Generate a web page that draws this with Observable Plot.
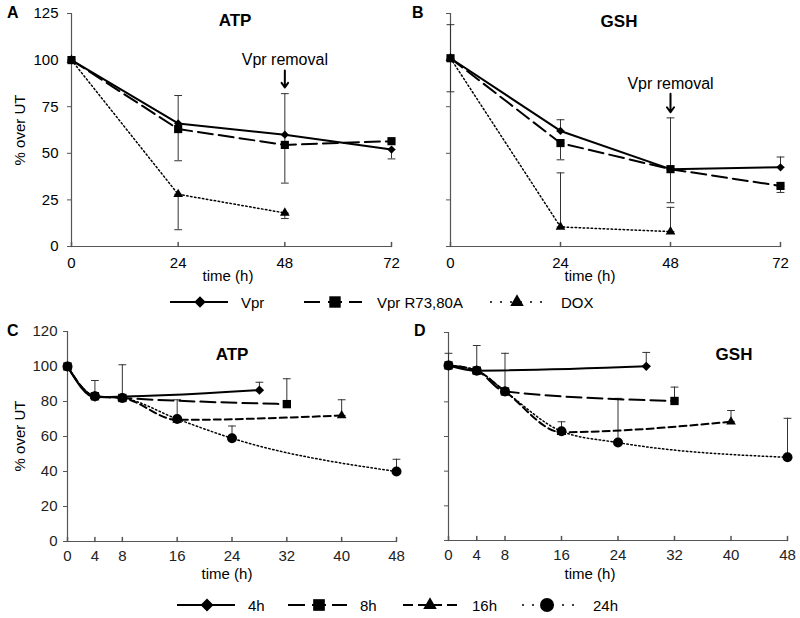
<!DOCTYPE html>
<html><head><meta charset="utf-8">
<script src="https://cdn.jsdelivr.net/npm/d3@7"></script>
<script src="https://cdn.jsdelivr.net/npm/@observablehq/plot@0.6"></script>
<style>
html,body{margin:0;padding:0;background:#fff;}
#root{position:relative;width:800px;height:618px;overflow:hidden;font-family:"Liberation Sans",Arial,sans-serif;}
</style></head><body><div id="root"></div>
<script>
// ---------- DATA ----------
// Panels A/B (time points in h)
const timeAB = [0, 24, 48, 72];
const timeDox = [0, 24, 48];
const atpVpr = [100, 66, 60, 52];
const atpR7380A = [100, 63, 54.5, 56.5];
const atpDox = [100, 28, 18];
const gshVpr = [101, 62, 41.5, 42.5];
const gshR7380A = [101, 55.5, 41.5, 32.5];
const gshDox = [101, 10.5, 8];
// error bars: [time, low end, high end]
const atpErrAB = [[24, 46, 81], [24, 9, 28], [48, 34, 82], [48, 15, 18], [72, 47, 52]];
const gshErrAB = [[0, 83, 119], [24, 62, 68], [24, 46.5, 55.5], [24, 10.5, 39.5], [48, 23.5, 69], [48, 8, 21], [72, 42.5, 48], [72, 29, 32.5]];

// Panels C/D
const time4h = [0, 4, 28];
const time8h = [0, 4, 8, 32];
const time16h = [0, 4, 8, 16, 40];
const time24h = [0, 4, 8, 16, 24, 48];
const atp4h = [100, 82.5, 86.5];
const atp8h = [100, 83, 82, 78.5];
const atp16h = [100, 83, 82, 69.5, 72];
const atp24h = [100, 83, 82, 70, 59, 40];
const gsh4h = [101, 98, 100.5];
const gsh8h = [101, 98, 86, 80.5];
const gsh16h = [101, 98, 86, 62.5, 68.5];
const gsh24h = [101, 98, 86, 63, 56.5, 48];
const atpErrCD = [[4, 83, 92], [8, 82, 101], [16, 70, 81], [24, 59, 66], [28, 86.5, 91], [32, 78.5, 93], [40, 72, 81], [48, 40, 47]];
const gshErrCD = [[0, 101, 108], [4, 98, 112.5], [8, 86, 108], [16, 62.5, 68.5], [24, 56.5, 82], [28, 100.5, 108.5], [32, 80.5, 88.5], [40, 68.5, 75], [48, 48, 70.5]];

// ticks and labels
const xTicksAB = [0, 24, 48, 72];
const yTicksAB = [0, 25, 50, 75, 100, 125];
const xTicksCD = [0, 4, 8, 16, 24, 32, 40, 48];
const yTicksCD = [0, 20, 40, 60, 80, 100, 120];
const seriesAB = ["Vpr", "Vpr R73,80A", "DOX"];
const seriesCD = ["4h", "8h", "16h", "24h"];
const panelTitles = ["ATP", "GSH", "ATP", "GSH"];
const panelLetters = ["A", "B", "C", "D"];
const yAxisTitle = "% over UT";
const xAxisTitle = "time (h)";
const noteText = "Vpr removal";
const noteTime = 48;
const atpNote = [100, 94.4, 85.3];   // text value, arrow start, arrow end
const gshNote = [87.4, 82, 72];

// ---------- STYLES ----------
const styleAB = {
  "Vpr": {symbol: "diamond2", r: 3.7, dash: null, width: 2},
  "Vpr R73,80A": {symbol: "square", r: 4.6, dash: "15,6", width: 2},
  "DOX": {symbol: "triangle", r: 3.6, dash: "1.5,2.5", width: 1.5}
};
const styleCD = {
  "4h": {symbol: "diamond2", r: 4.2, dash: null, width: 2},
  "8h": {symbol: "square", r: 4.7, dash: "15,6", width: 2},
  "16h": {symbol: "triangle", r: 3.6, dash: "7,4", width: 2},
  "24h": {symbol: "circle", r: 5, dash: "1.5,2.5", width: 1.5}
};

const root = document.getElementById("root");
const lineShape = {draw(ctx, l) { ctx.moveTo(0, 0); ctx.lineTo(0, -l); }};

function toRows(names, times, values) {
  return names.flatMap((s, k) => times[k].map((t, i) => ({series: s, t, v: values[k][i]})));
}

function panel(cfg) {
  const rows = toRows(cfg.names, cfg.times, cfg.values);
  const bars = cfg.errs.map(([t, lo, hi]) => ({t, lo, hi}));
  const ends = bars.flatMap(b => [{t: b.t, v: b.lo}, {t: b.t, v: b.hi}]);
  const marks = [
    Plot.ruleX([cfg.xDomain[0]], {stroke: "#555", strokeWidth: 1.2}),
    Plot.ruleY([cfg.yDomain[0]], {stroke: "#555", strokeWidth: 1.2}),
    Plot.axisY({ticks: cfg.yTicks, tickSize: 4, tickPadding: cfg.yPad, stroke: "#555",
      tickFormat: cfg.yLabels ? (d => d) : (() => ""), label: null, fill: cfg.tickColor}),
    Plot.axisX({ticks: cfg.xTicks, tickSize: 0, tickPadding: cfg.xPad, label: null, fill: cfg.tickColor}),
    Plot.vector(cfg.xTicks, {x: d => d, y: cfg.yDomain[0], length: 4, rotate: 0, anchor: "start", shape: lineShape, stroke: "#555"}),
    Plot.ruleX(bars, {x: "t", y1: "lo", y2: "hi", stroke: "#333", strokeWidth: 1}),
    Plot.vector(ends, {x: "t", y: "v", length: 7, rotate: 90, anchor: "middle", shape: lineShape, stroke: "#333", strokeWidth: 1})
  ];
  for (const s of cfg.names) {
    const st = cfg.styles[s];
    marks.push(Plot.line(rows.filter(d => d.series === s), {x: "t", y: "v", stroke: "black",
      strokeWidth: st.width, strokeDasharray: st.dash, curve: cfg.curve}));
  }
  for (const s of cfg.markerOrder) {
    const st = cfg.styles[s];
    marks.push(Plot.dot(rows.filter(d => d.series === s), {x: "t", y: "v", symbol: st.symbol, r: st.r, fill: "black", stroke: "none"}));
  }
  if (cfg.note) {
    const n = [{t: noteTime, ty: cfg.note[0], a1: cfg.note[1], a2: cfg.note[2], label: noteText}];
    marks.push(Plot.text(n, {x: "t", y: "ty", text: "label", fontSize: 16, fill: "black"}));
    marks.push(Plot.arrow(n, {x1: "t", y1: "a1", x2: "t", y2: "a2", stroke: "black", strokeWidth: 2, headLength: 9, headAngle: 70}));
  }
  const svg = Plot.plot({
    width: cfg.width, height: cfg.height,
    marginLeft: cfg.mL, marginRight: cfg.mR, marginTop: cfg.mT, marginBottom: cfg.mB,
    x: {domain: cfg.xDomain},
    y: {domain: cfg.yDomain},
    style: {fontFamily: "'Liberation Sans', Arial, sans-serif", fontSize: "15px", color: "#000", background: "transparent", overflow: "visible"},
    marks
  });
  svg.style.position = "absolute";
  svg.style.left = cfg.left + "px";
  svg.style.top = cfg.top + "px";
  svg.style.maxWidth = "none";
  root.appendChild(svg);
}

panel({left: 0, top: 0, width: 400, height: 290, mL: 71, mR: 9, mT: 13, mB: 44,
  xDomain: [0, 72], yDomain: [0, 125], xTicks: xTicksAB, yTicks: yTicksAB, yLabels: true, yPad: 9, xPad: 11, tickColor: "#000",
  names: seriesAB, times: [timeAB, timeAB, timeDox], values: [atpVpr, atpR7380A, atpDox],
  styles: styleAB, markerOrder: ["DOX", "Vpr", "Vpr R73,80A"], errs: atpErrAB, curve: "linear", note: atpNote});
panel({left: 400, top: 0, width: 400, height: 290, mL: 50, mR: 20, mT: 13, mB: 44,
  xDomain: [0, 72], yDomain: [0, 125], xTicks: xTicksAB, yTicks: yTicksAB, yLabels: false, yPad: 9, xPad: 11, tickColor: "#000",
  names: seriesAB, times: [timeAB, timeAB, timeDox], values: [gshVpr, gshR7380A, gshDox],
  styles: styleAB, markerOrder: ["DOX", "Vpr", "Vpr R73,80A"], errs: gshErrAB, curve: "linear", note: gshNote});
panel({left: 0, top: 320, width: 400, height: 270, mL: 67, mR: 4, mT: 11, mB: 49,
  xDomain: [0, 48], yDomain: [0, 120], xTicks: xTicksCD, yTicks: yTicksCD, yLabels: true, yPad: 6, xPad: 9, tickColor: "#222",
  names: seriesCD, times: [time4h, time8h, time16h, time24h], values: [atp4h, atp8h, atp16h, atp24h],
  styles: styleCD, markerOrder: ["4h", "16h", "24h", "8h"], errs: atpErrCD, curve: "monotone-x"});
panel({left: 400, top: 320, width: 400, height: 270, mL: 48, mR: 13, mT: 12, mB: 50,
  xDomain: [0, 48], yDomain: [0, 120], xTicks: xTicksCD, yTicks: yTicksCD, yLabels: false, yPad: 6, xPad: 9, tickColor: "#222",
  names: seriesCD, times: [time4h, time8h, time16h, time24h], values: [gsh4h, gsh8h, gsh16h, gsh24h],
  styles: styleCD, markerOrder: ["4h", "16h", "24h", "8h"], errs: gshErrCD, curve: "monotone-x"});

// ---------- overlay texts & legends ----------
const ov = d3.select(root).append("svg")
  .attr("width", 800).attr("height", 618)
  .style("position", "absolute").style("left", "0px").style("top", "0px")
  .style("pointer-events", "none")
  .attr("font-family", "'Liberation Sans', Arial, sans-serif");

const letterPos = [[7, 18], [412, 18], [7, 336], [414, 336]];
panelLetters.forEach((l, i) => ov.append("text").attr("x", letterPos[i][0]).attr("y", letterPos[i][1])
  .attr("font-size", 16).attr("font-weight", "bold").text(l));
const titlePos = [[235, 26], [619, 27], [232, 360], [734, 360]];
panelTitles.forEach((t, i) => ov.append("text").attr("x", titlePos[i][0]).attr("y", titlePos[i][1])
  .attr("text-anchor", "middle").attr("font-size", 17).attr("font-weight", "bold").text(t));
[[25, 130], [25, 436]].forEach(([x, y]) => ov.append("text")
  .attr("transform", `translate(${x},${y}) rotate(-90)`).attr("text-anchor", "middle").attr("font-size", 15).text(yAxisTitle));
[[228, 281], [590, 281], [227, 579], [590, 579]].forEach(([x, y]) => ov.append("text")
  .attr("x", x).attr("y", y).attr("text-anchor", "middle").attr("font-size", 15).text(xAxisTitle));

const symMap = {diamond2: d3.symbolDiamond2, square: d3.symbolSquare, triangle: d3.symbolTriangle, circle: d3.symbolCircle};
// legend item: line segments, marker x, text x
function legendItem(name, st, segs, dash, mx, tx, y) {
  segs.forEach(([a, b]) => ov.append("line").attr("x1", a).attr("x2", b).attr("y1", y).attr("y2", y)
    .attr("stroke", "black").attr("stroke-width", st.width).attr("stroke-dasharray", dash));
  const r = st.r * 1.4;
  ov.append("path").attr("d", d3.symbol(symMap[st.symbol], Math.PI * r * r)())
    .attr("transform", `translate(${mx},${y})`).attr("fill", "black");
  ov.append("text").attr("x", tx).attr("y", y + 5.5).attr("font-size", 15).text(name);
}
legendItem(seriesAB[0], styleAB[seriesAB[0]], [[170, 228]], null, 200, 241, 302);
legendItem(seriesAB[1], styleAB[seriesAB[1]], [[304, 320], [328, 342], [349, 362]], null, 335, 377, 302);
legendItem(seriesAB[2], styleAB[seriesAB[2]], [[490, 545]], "2,8", 517, 561, 302);
legendItem(seriesCD[0], styleCD[seriesCD[0]], [[177, 235]], null, 207, 248, 605);
legendItem(seriesCD[1], styleCD[seriesCD[1]], [[288, 305], [312, 326], [332, 347]], null, 319, 360, 605);
legendItem(seriesCD[2], styleCD[seriesCD[2]], [[403, 413], [418, 442], [447, 457]], null, 430, 472, 605);
legendItem(seriesCD[3], styleCD[seriesCD[3]], [[522, 577]], "2,8", 547, 593, 605);
</script></body></html>
